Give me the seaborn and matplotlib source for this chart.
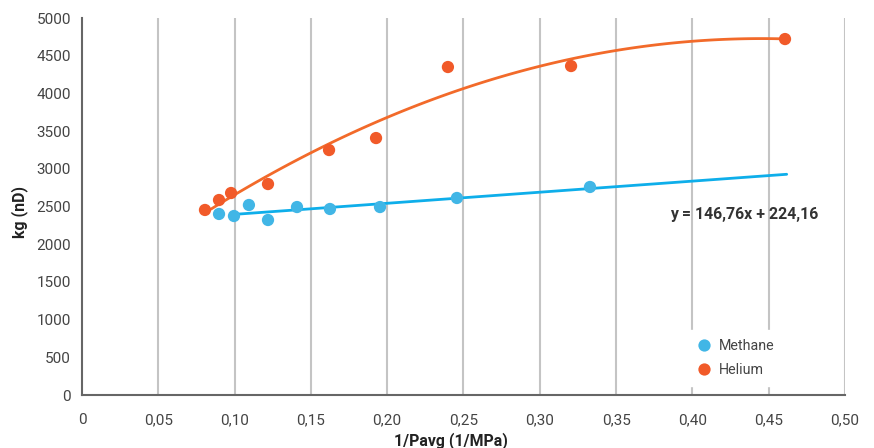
import numpy as np
import pandas as pd
import matplotlib
matplotlib.use('Agg')
from matplotlib import pyplot as plt
import seaborn as sns

# values
methane_x = [0.0898, 0.0996, 0.1094, 0.1219, 0.1409, 0.1625, 0.1953, 0.2457, 0.3329]
methane_y = [2401, 2374, 2520, 2321, 2493, 2467, 2493, 2613, 2759]
helium_x = [0.0806, 0.0898, 0.0977, 0.1219, 0.1619, 0.1927, 0.2398, 0.3205, 0.4607]
helium_y = [2454, 2586, 2679, 2798, 3249, 3408, 4350, 4363, 4721]
x_ticks = [0, 0.05, 0.10, 0.15, 0.20, 0.25, 0.30, 0.35, 0.40, 0.45, 0.50]
x_tick_labels = ['0', '0,05', '0,10', '0,15', '0,20', '0,25', '0,30', '0,35', '0,40', '0,45', '0,50']
y_ticks = list(range(0, 5001, 500))
equation = 'y = 146,76x + 224,16'

colors = {'Methane': '#41b6e6', 'Helium': '#f15a29'}
line_colors = {'Methane': '#0eaeea', 'Helium': '#f26a2a'}

df = pd.DataFrame({
    'x': methane_x + helium_x,
    'y': methane_y + helium_y,
    'gas': ['Methane'] * len(methane_x) + ['Helium'] * len(helium_x),
})

sns.set_style('white')
plt.rcParams['font.family'] = ['Roboto', 'DejaVu Sans']

fig = plt.figure(figsize=(8.74, 4.48), dpi=100)
ax = fig.add_axes([0.0938, 0.1183, 0.8730, 0.8415])

for xt in x_ticks[1:]:
    ax.axvline(xt, color='#c4c4c4', lw=1.5, zorder=0)

# trend lines
m_fit = np.polyfit(methane_x, methane_y, 1)
m_line_x = np.linspace(0.0996, 0.4618, 60)
sns.lineplot(x=m_line_x, y=np.polyval(m_fit, m_line_x), color=line_colors['Methane'],
             lw=2, ax=ax, zorder=2)
h_fit = np.polyfit(helium_x, helium_y, 2)
h_line_x = np.linspace(0.0845, 0.4618, 120)
sns.lineplot(x=h_line_x, y=np.polyval(h_fit, h_line_x), color=line_colors['Helium'],
             lw=2, ax=ax, zorder=2)

sns.scatterplot(data=df, x='x', y='y', hue='gas', palette=colors, s=78,
                edgecolor='none', ax=ax, zorder=3)

ax.set_xlim(0, 0.5)
ax.set_ylim(0, 5000)
ax.set_xticks(x_ticks)
ax.set_xticklabels(x_tick_labels)
ax.set_yticks(y_ticks)
ax.tick_params(axis='both', labelsize=11, colors='#444444', labelcolor='#444444')
ax.tick_params(axis='y', length=6, width=1.2, color='#666666', pad=2)
ax.tick_params(axis='x', length=3, width=1.2, color='#c4c4c4', pad=10)

for side in ['top', 'right']:
    ax.spines[side].set_visible(False)
for side in ['left', 'bottom']:
    ax.spines[side].set_color('#666666')
    ax.spines[side].set_linewidth(1.5)

ax.set_xlabel('1/Pavg (1/MPa)', fontsize=11.4, fontweight='bold', color='#222222')
ax.xaxis.set_label_coords((451 - 82) / 763, -(432 - 395) / 377)
ax.set_ylabel('kg (nD)', fontsize=11.4, fontweight='bold', color='#222222')
ax.yaxis.set_label_coords(-(82 - 28) / 763, (395 - 212) / 377)

ax.text(0.4338, 2400, equation, fontsize=11.4, fontweight='bold', color='#333333',
        ha='center', va='center')

leg = ax.legend(loc='center', bbox_to_anchor=(0.852, 0.098), frameon=True,
                facecolor='white', edgecolor='white', framealpha=1, fontsize=10.3,
                handletextpad=0.0, labelspacing=0.75, borderpad=0.6, markerscale=1.0)
for t in leg.get_texts():
    t.set_color('#444444')

fig.savefig('out.png', dpi=100)
